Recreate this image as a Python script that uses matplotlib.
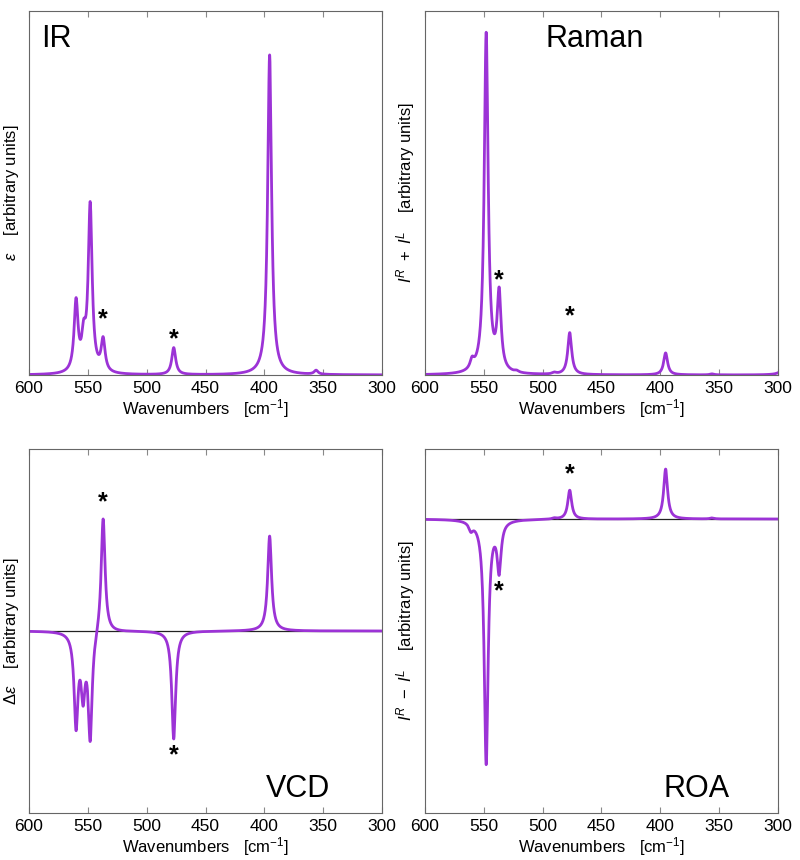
import numpy as np
import matplotlib
matplotlib.use("Agg")
import matplotlib.pyplot as plt

plt.rcParams['font.family'] = ['Liberation Sans', 'DejaVu Sans']
plt.rcParams['mathtext.fontset'] = 'custom'
plt.rcParams['mathtext.rm'] = 'Liberation Sans'
plt.rcParams['mathtext.it'] = 'Liberation Sans:italic'
plt.rcParams['mathtext.bf'] = 'Liberation Sans:bold'
plt.rcParams['mathtext.fallback'] = 'stixsans'

# peak positions (cm-1) and heights (arbitrary units)
ir_pos = [560, 553.5, 548, 537, 477, 395.5, 356]
ir_amp = [70, 30, 167, 32, 27, 320, 4]

raman_pos = [560, 548, 537, 522, 490, 477, 395.5, 356, 293]
raman_amp = [9, 340, 77, 1.5, 1.5, 42, 22, 1, 30]

vcd_pos = [560, 554, 548, 537, 477, 395.5]
vcd_amp = [-92, -57, -106, 117, -108, 95]

roa_pos = [561, 548, 537, 490, 477, 395.5, 356]
roa_amp = [-7.5, -244, -48.6, 1, 29, 50, 1]

# asterisk markers (x, y) per panel
ir_stars = [(537, 56), (477, 36)]
raman_stars = [(537, 95), (477, 59)]
vcd_stars = [(537, 129), (477, -124)]
roa_stars = [(477, 45), (537, -72)]

hwhm = 2.0
color = '#9c33d6'


def spectrum(x, pos, amp, g=hwhm):
    y = np.zeros_like(x)
    for p, a in zip(pos, amp):
        y += a * g**2 / ((x - p)**2 + g**2)
    return y


x = np.linspace(300, 600, 3001)

fig = plt.figure(figsize=(8, 8.6), dpi=100)
W, H = 353 / 800, 364 / 860
axes = {
    'IR': fig.add_axes([29 / 800, 1 - 375 / 860, W, H]),
    'Raman': fig.add_axes([425 / 800, 1 - 375 / 860, W, H]),
    'VCD': fig.add_axes([29 / 800, 1 - 813 / 860, W, H]),
    'ROA': fig.add_axes([425 / 800, 1 - 813 / 860, W, H]),
}

panels = {
    'IR': (ir_pos, ir_amp, ir_stars, (0, 364), r'$\epsilon$    [arbitrary units]'),
    'Raman': (raman_pos, raman_amp, raman_stars, (0, 364), r'$I^R\ +\ I^L$    [arbitrary units]'),
    'VCD': (vcd_pos, vcd_amp, vcd_stars, (-182, 182), r'$\Delta\epsilon$    [arbitrary units]'),
    'ROA': (roa_pos, roa_amp, roa_stars, (-294, 70), r'$I^R\ -\ I^L$    [arbitrary units]'),
}

for name, (pos, amp, stars, ylim, ylab) in panels.items():
    ax = axes[name]
    y = spectrum(x, pos, amp)
    if ylim[0] < 0:
        ax.axhline(0, color='#222222', lw=0.9, zorder=1)
    ax.plot(x, y, color=color, lw=2, zorder=2)
    for sx, sy in stars:
        ax.text(sx, sy, '*', fontsize=18, fontweight='bold', ha='center', va='center')
    ax.set_xlim(600, 300)
    ax.set_ylim(*ylim)
    ax.set_yticks([])
    ax.set_xticks([600, 550, 500, 450, 400, 350, 300])
    ax.tick_params(axis='x', direction='in', length=4, top=True, color='#888888',
                   labelsize=12.5, pad=4)
    for s in ax.spines.values():
        s.set_color('#666666')
    ax.set_xlabel(r'Wavenumbers   [cm$^{-1}$]', fontsize=12, labelpad=1)
    ax.set_ylabel(ylab, fontsize=12, labelpad=6)

axes['IR'].text(0.035, 0.9, 'IR', transform=axes['IR'].transAxes, fontsize=22)
axes['Raman'].text(0.34, 0.9, 'Raman', transform=axes['Raman'].transAxes, fontsize=22)
axes['VCD'].text(0.67, 0.045, 'VCD', transform=axes['VCD'].transAxes, fontsize=22)
axes['ROA'].text(0.675, 0.045, 'ROA', transform=axes['ROA'].transAxes, fontsize=22)

fig.savefig('out.png', dpi=100)
